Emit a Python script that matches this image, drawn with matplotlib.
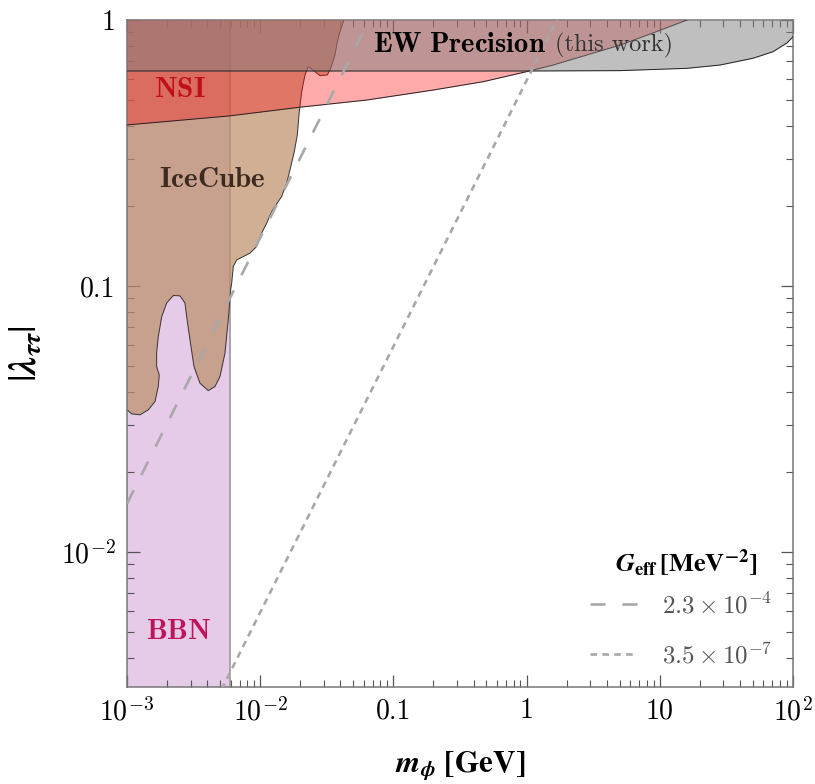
import numpy as np
import matplotlib
matplotlib.use("Agg")
import matplotlib.pyplot as plt
from matplotlib.ticker import FixedLocator, FixedFormatter, NullFormatter, LogLocator

plt.rcParams["mathtext.fontset"] = "cm"
plt.rcParams["font.family"] = "serif"
plt.rcParams["font.serif"] = ["cmr10"]
plt.rcParams["axes.formatter.use_mathtext"] = True

# IceCube exclusion boundary (m_phi [GeV], |lambda|)
icecube_m = [1.0e-3, 1.084e-3, 1.253e-3, 1.446e-3, 1.623e-3, 1.718e-3, 1.747e-3, 1.670e-3,
             1.670e-3, 1.718e-3, 1.824e-3, 1.987e-3, 2.228e-3, 2.500e-3, 2.723e-3, 2.806e-3,
             2.971e-3, 3.184e-3, 3.532e-3, 4.074e-3, 4.577e-3, 4.992e-3, 5.441e-3, 5.759e-3,
             6.006e-3, 6.110e-3, 6.281e-3, 6.665e-3, 7.468e-3, 8.380e-3, 9.41e-3, 1.026e-2,
             1.119e-2, 1.220e-2, 1.291e-2, 1.449e-2, 1.580e-2, 1.674e-2, 1.80e-2, 1.900e-2,
             1.966e-2, 2.050e-2, 2.170e-2, 2.297e-2, 2.578e-2, 2.810e-2, 3.190e-2, 3.384e-2,
             3.644e-2, 3.793e-2, 3.973e-2, 4.257e-2]
icecube_lam = [3.420e-2, 3.302e-2, 3.274e-2, 3.420e-2, 3.672e-2, 4.182e-2, 4.626e-2, 4.973e-2,
               5.598e-2, 6.446e-2, 7.667e-2, 8.627e-2, 9.20e-2, 9.17e-2, 8.627e-2, 7.667e-2,
               6.266e-2, 4.973e-2, 4.306e-2, 4.038e-2, 4.182e-2, 4.561e-2, 5.585e-2, 7.448e-2,
               9.66e-2, 0.1023, 0.1183, 0.1252, 0.1289, 0.1327, 0.1406, 0.1579,
               0.1721, 0.1902, 0.1987, 0.2168, 0.2433, 0.2730, 0.318, 0.3697,
               0.4520, 0.5375, 0.6210, 0.6673, 0.6393, 0.6176, 0.6210, 0.6580,
               0.7386, 0.8284, 0.9036, 1.0]

# NSI lower boundary
nsi_m = [1.0e-3, 5.93e-3, 1.99e-2, 6.31e-2, 0.198, 0.471, 1.05, 1.58, 2.84, 5.05, 8.89, 16.0]
nsi_lam = [0.403, 0.436, 0.470, 0.500, 0.545, 0.586, 0.643, 0.677, 0.739, 0.805, 0.894, 1.0]

# EW precision lower boundary (this work)
ew_m = [1.0e-3, 1.05, 5.02, 16.0, 28.3, 50.1, 70.8, 90.2, 100.0]
ew_lam = [0.643, 0.643, 0.645, 0.658, 0.677, 0.718, 0.760, 0.820, 0.865]

# BBN excludes masses below this value
bbn_m_max = 5.93e-3

# effective couplings G_eff [MeV^-2]
g_eff = [2.3e-4, 3.5e-7]
g_labels = [r"$2.3\times10^{-4}$", r"$3.5\times10^{-7}$"]
g_dashes = [(5.7, 6.4), (2.5, 2.0)]

xticks = [1e-3, 1e-2, 0.1, 1, 10, 100]
xticklabels = [r"$10^{-3}$", r"$10^{-2}$", "0.1", "1", "10", r"$10^{2}$"]
yticks = [1e-2, 0.1, 1]
yticklabels = [r"$10^{-2}$", "0.1", "1"]

fig = plt.figure(figsize=(8.15, 7.84), dpi=100)
ax = fig.add_axes([0.1558, 0.1237, 0.8172, 0.8508])
ax.set_xscale("log")
ax.set_yscale("log")
ax.set_xlim(1e-3, 100)
ax.set_ylim(3.1e-3, 1)

# BBN band
ax.axvspan(1e-3, bbn_m_max, color="#cd99d1", alpha=0.5, lw=0, zorder=1)
ax.axvline(bbn_m_max, color="#9a9a9a", lw=1.2, zorder=1.5)

# IceCube
ice_x = icecube_m + [1e-3]
ice_y = icecube_lam + [1.0]
ax.fill(ice_x, ice_y, color="#bc8e69", alpha=0.7, lw=0, zorder=2)
ax.plot(icecube_m, icecube_lam, color="#333333", lw=0.7, zorder=2.5)

# NSI
ax.fill_between(nsi_m, nsi_lam, 1.0, color="#ff0c0c", alpha=0.35, lw=0, zorder=3)
ax.plot(nsi_m, nsi_lam, color="#222222", lw=0.7, zorder=3.5)

# EW precision
ax.fill_between(ew_m, ew_lam, 1.0, color="#808080", alpha=0.5, lw=0, zorder=4)
ax.plot(ew_m, ew_lam, color="#222222", lw=0.7, zorder=4.5)

# lines of constant G_eff: lambda = m * sqrt(G_eff), m in MeV
m_line = np.array([1e-3, 100.0])
for g, lab, d in zip(g_eff, g_labels, g_dashes):
    ax.plot(m_line, 1e3 * m_line * np.sqrt(g), color="#a8a8a8", lw=1.9,
            dashes=d, label=lab, zorder=5)

ax.text(0.0703, 0.805, r"$\mathbf{EW\ Precision}$", fontsize=20.5,
        ha="left", va="center", zorder=6)
ax.text(1.63, 0.805, "(this work)", fontsize=17.5, color="#333333",
        ha="left", va="center", zorder=6)
ax.text(2.5e-3, 0.545, r"$\mathbf{NSI}$", fontsize=21, color="#c0101a",
        ha="center", va="center", zorder=6)
ax.text(4.35e-3, 0.250, r"$\mathbf{IceCube}$", fontsize=21, color="#3d2b1f",
        ha="center", va="center", zorder=6)
ax.text(2.46e-3, 5.0e-3, r"$\mathbf{BBN}$", fontsize=21, color="#c0145a",
        ha="center", va="center", zorder=6)

# legend: title placed on its own above the entries
ax.text(0.839, 0.186, r"$\mathbfit{G}_{\mathbf{eff}}\,\mathbf{[MeV^{-2}]}$",
        fontsize=19, math_fontfamily="stix", transform=ax.transAxes,
        ha="center", va="center", zorder=6)
leg = ax.legend(loc="lower right", bbox_to_anchor=(1.003, -0.005), frameon=False,
                fontsize=18, labelcolor="#555555", handlelength=1.9,
                labelspacing=0.96, handletextpad=1.0)

ax.xaxis.set_major_locator(FixedLocator(xticks))
ax.xaxis.set_major_formatter(FixedFormatter(xticklabels))
ax.yaxis.set_major_locator(FixedLocator(yticks))
ax.yaxis.set_major_formatter(FixedFormatter(yticklabels))
ax.xaxis.set_minor_locator(LogLocator(base=10, subs=np.arange(2, 10), numticks=20))
ax.yaxis.set_minor_locator(LogLocator(base=10, subs=np.arange(2, 10), numticks=20))
ax.xaxis.set_minor_formatter(NullFormatter())
ax.yaxis.set_minor_formatter(NullFormatter())

ax.tick_params(which="both", direction="in", top=True, right=True,
               color="#555555", labelsize=20, pad=8)
ax.tick_params(which="major", length=9, width=0.9)
ax.tick_params(which="minor", length=5, width=0.8)
for s in ax.spines.values():
    s.set_color("#777777")
    s.set_linewidth(1.1)

ax.set_xlabel(r"$\mathbfit{m}_{\mathbfit{\phi}}\ \mathbf{[GeV]}$", fontsize=22.5,
              math_fontfamily="stix", labelpad=16)
ax.set_ylabel(r"$|\mathbfit{\lambda}_{\mathbfit{\tau\tau}}|$", fontsize=27,
              math_fontfamily="stix", labelpad=12)

fig.savefig("out.png", dpi=100)
